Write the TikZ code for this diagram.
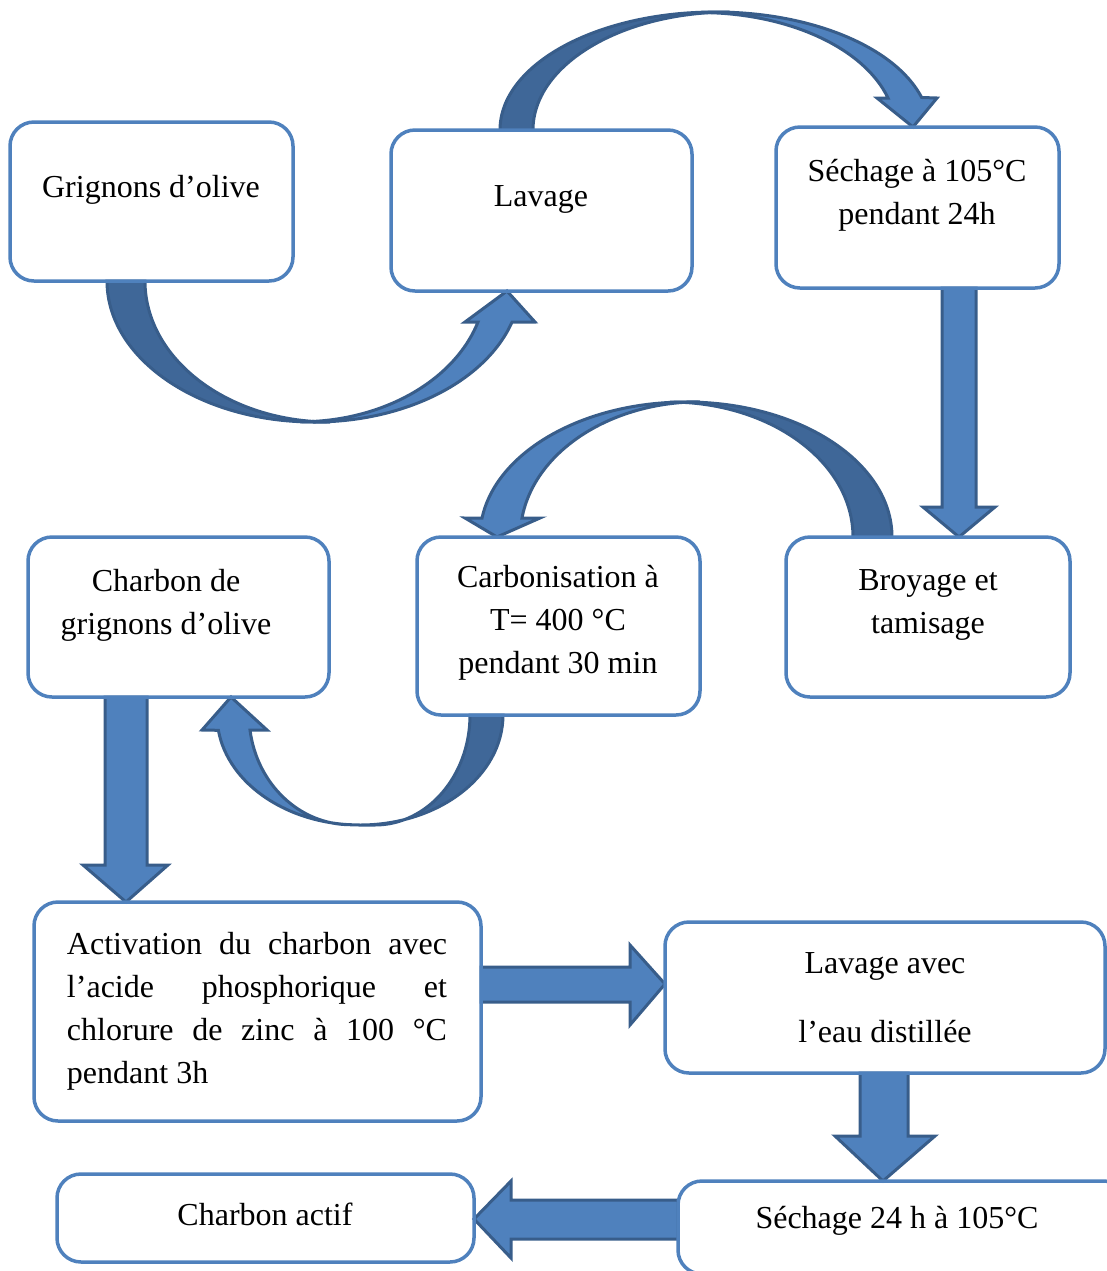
\documentclass[tikz,border=0pt]{standalone}
\usepackage{fontspec}
\setmainfont{Liberation Serif}
\usetikzlibrary{backgrounds}
\definecolor{boxblue}{RGB}{79,129,189}
\definecolor{arrowline}{RGB}{56,93,138}
\definecolor{arrowdark}{RGB}{63,103,152}
\tikzset{
  stepbox/.style={draw=boxblue, line width=1.75pt, rounded corners=12pt, outer sep=0pt},
  steptext/.style={font=\fontsize{16}{21.5}\selectfont, align=center, inner sep=0pt},
  blockarrow/.style={fill=boxblue, draw=arrowline, line width=1.5pt, line join=miter},
  blockback/.style={fill=arrowdark, draw=arrowline, line width=1.5pt},
}
\begin{document}
\begin{tikzpicture}[x=0.5pt, y=-0.5pt]
\useasboundingbox (0,0) rectangle (1107,1271);
\clip (0,0) rectangle (1107,1271);
\node[stepbox, minimum width=141.5pt, minimum height=79.5pt] (grig) at (151.5,201.5) {};
\node[steptext] (grigtxt) at (151,190) {Grignons d’olive};
\node[stepbox, minimum width=150.5pt, minimum height=80.5pt] (lav) at (541.5,210.5) {};
\node[steptext] (lavtxt) at (541,199) {Lavage};
\node[stepbox, minimum width=141.5pt, minimum height=80.5pt] (sech) at (917.5,207.5) {};
\node[steptext] (sechtxt) at (917,195) {Séchage à 105°C\\pendant 24h};
\node[stepbox, minimum width=142pt, minimum height=80pt] (broy) at (928,617) {};
\node[steptext] (broytxt) at (928,605) {Broyage et\\tamisage};
\node[stepbox, minimum width=141.5pt, minimum height=89pt] (carb) at (558.5,626) {};
\node[steptext] (carbtxt) at (558,623) {Carbonisation à\\T= 400 °C\\pendant 30 min};
\node[stepbox, minimum width=150.5pt, minimum height=80pt] (charb) at (178.5,617) {};
\node[steptext] (charbtxt) at (166,605) {Charbon de\\grignons d’olive};
\node[stepbox, minimum width=223.5pt, minimum height=109.5pt] (activ) at (257.5,1011.5) {};
\node[steptext, text width=190pt, align=justify] (activtxt) at (257,1011)
  {Activation du charbon avec\linebreak l’acide phosphorique et\linebreak chlorure de zinc à 100 °C\linebreak pendant 3h};
\node[stepbox, minimum width=220pt, minimum height=75.5pt] (lavd) at (885,997.5) {};
\node[steptext] (lavdtxt) at (885,998) {Lavage avec\\[13pt]l’eau distillée};
\node[stepbox, minimum width=225pt, minimum height=46.5pt] (sech2) at (903,1227.5) {};
\node[steptext] (sech2txt) at (897,1221) {Séchage 24 h à 105°C};
\node[stepbox, minimum width=208.5pt, minimum height=44pt] (actif) at (265.5,1218) {};
\node[steptext] (actiftxt) at (265,1214) {Charbon actif};
\begin{scope}[on background layer]
\draw[blockback] (107,0 |- grig.south) arc[start angle=180, end angle=90, x radius=207, y radius=141]
  -- (330,422) arc[start angle=90, end angle=180, x radius=185, y radius=141] -- cycle;
\draw[blockarrow] (314,422) arc[start angle=90, end angle=17, x radius=207, y radius=141]
  -- (535,322) -- (507,0 |- lav.south) -- (465,322)
  -- (478,322) arc[start angle=17, end angle=90, x radius=186, y radius=141] -- cycle;
\draw[blockback] (500,0 |- lav.north) arc[start angle=180, end angle=270, x radius=215, y radius=118]
  -- (730,12) arc[start angle=270, end angle=180, x radius=197, y radius=118] -- cycle;
\draw[blockarrow] (715,12) arc[start angle=270, end angle=344, x radius=215, y radius=118]
  -- (937,98) -- (913,0 |- sech.north) -- (877,98)
  -- (888,98) arc[start angle=344, end angle=270, x radius=196, y radius=118] -- cycle;
\draw[blockarrow] (942,0 |- sech.south) -- (942,507) -- (923,507) -- (959,0 |- broy.north)
  -- (995,507) -- (976,507) -- (976,0 |- sech.south) -- cycle;
\draw[blockback] (892,0 |- broy.north) arc[start angle=0, end angle=-90, x radius=206, y radius=135]
  -- (670,402) arc[start angle=-90, end angle=0, x radius=183, y radius=135] -- cycle;
\draw[blockarrow] (686,402) arc[start angle=270, end angle=188, x radius=206, y radius=135]
  -- (465,518) -- (497,0 |- carb.north) -- (540,518)
  -- (522,518) arc[start angle=188, end angle=270, x radius=180, y radius=135] -- cycle;
\draw[blockback] (503,0 |- carb.south) arc[start angle=0, end angle=90, x radius=143, y radius=110]
  -- (375,825) arc[start angle=90, end angle=0, x radius=95, y radius=110] -- cycle;
\draw[blockarrow] (360,825) arc[start angle=90, end angle=172, x radius=143, y radius=110]
  -- (202,730) -- (231,0 |- charb.south) -- (267,730)
  -- (250,730) arc[start angle=172, end angle=90, x radius=101, y radius=110] -- cycle;
\draw[blockarrow] (105,0 |- charb.south) -- (105,865) -- (83,865) -- (126,0 |- activ.north)
  -- (168,865) -- (147,865) -- (147,0 |- charb.south) -- cycle;
\draw[blockarrow] (activ.east |- 0,967) -- (630,967) -- (630,945) -- (lavd.west |- 0,984)
  -- (630,1025) -- (630,1002) -- (activ.east |- 0,1002) -- cycle;
\draw[blockarrow] (860,0 |- lavd.south) -- (860,1136) -- (835,1136) -- (883,0 |- sech2.north)
  -- (935,1136) -- (908,1136) -- (908,0 |- lavd.south) -- cycle;
\draw[blockarrow] (sech2.west |- 0,1200) -- (511,1200) -- (511,1181) -- (actif.east |- 0,1219)
  -- (511,1258) -- (511,1239) -- (sech2.west |- 0,1239) -- cycle;
\end{scope}
\end{tikzpicture}
\end{document}
